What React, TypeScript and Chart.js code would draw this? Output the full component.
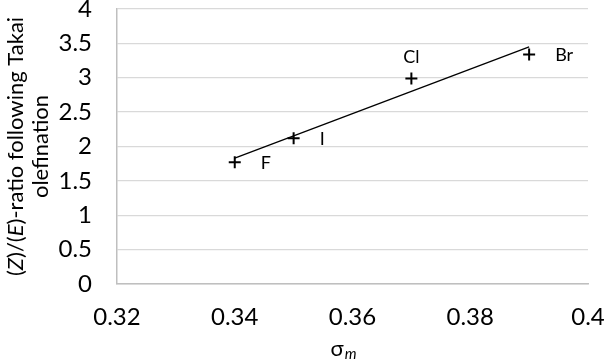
import React, { useEffect, useRef } from "react";
import { Chart, registerables } from "chart.js";

Chart.register(...registerables);

const pointLabels = ["F", "I", "Cl", "Br"];
const sigmaM = [0.34, 0.35, 0.37, 0.39];
const zeRatio = [1.77, 2.12, 2.99, 3.34];
const trendX = [0.34, 0.39];
const trendY = [1.83, 3.45];
const xTickLabels = ["0.32", "0.34", "0.36", "0.38", "0.4"];
const yTickLabels = ["0", "0.5", "1", "1.5", "2", "2.5", "3", "3.5", "4"];
const yTitleLine1 = [
  { t: "(", i: false },
  { t: "Z", i: true },
  { t: ")/(", i: false },
  { t: "E", i: true },
  { t: ")-ratio following Takai", i: false },
];
const yTitleLine2 = "olefination";
const xTitleMain = "σ";
const xTitleSub = "m";

const FONT = "Lato, 'Open Sans', sans-serif";

const labelPlugin = {
  id: "customText",
  afterDraw(chart: any) {
    const ctx = chart.ctx as CanvasRenderingContext2D;
    const xs = chart.scales.x;
    const ys = chart.scales.y;
    const area = chart.chartArea;
    ctx.save();
    ctx.fillStyle = "#000";
    ctx.font = `18px ${FONT}`;
    ctx.textBaseline = "middle";
    pointLabels.forEach((lab, k) => {
      const px = xs.getPixelForValue(sigmaM[k]);
      const py = ys.getPixelForValue(zeRatio[k]);
      if (lab === "Cl") {
        ctx.textAlign = "center";
        ctx.fillText(lab, px, py - 21);
      } else {
        ctx.textAlign = "left";
        ctx.fillText(lab, px + 26, py + 1);
      }
    });
    const cy = (area.top + area.bottom) / 2;
    const drawRot = (parts: { t: string; i: boolean }[], cx: number) => {
      ctx.save();
      ctx.translate(cx, cy);
      ctx.rotate(-Math.PI / 2);
      ctx.textAlign = "left";
      ctx.textBaseline = "middle";
      let total = 0;
      const widths = parts.map((p) => {
        ctx.font = `${p.i ? "italic " : ""}22px ${FONT}`;
        const w = ctx.measureText(p.t).width;
        total += w;
        return w;
      });
      let x = -total / 2;
      parts.forEach((p, k) => {
        ctx.font = `${p.i ? "italic " : ""}22px ${FONT}`;
        ctx.fillText(p.t, x, 0);
        x += widths[k];
      });
      ctx.restore();
    };
    drawRot(yTitleLine1, 16);
    drawRot([{ t: yTitleLine2, i: false }], 41);
    ctx.font = `22px ${FONT}`;
    const w1 = ctx.measureText(xTitleMain).width;
    ctx.font = `italic 15px ${FONT}`;
    const w2 = ctx.measureText(xTitleSub).width;
    const start = 343 - (w1 + w2) / 2;
    ctx.textAlign = "left";
    ctx.textBaseline = "alphabetic";
    ctx.font = `22px ${FONT}`;
    ctx.fillText(xTitleMain, start, 356);
    ctx.font = `italic 15px ${FONT}`;
    ctx.fillText(xTitleSub, start + w1 + 1, 359);
    ctx.restore();
  },
};

export default function App() {
  const ref = useRef<HTMLCanvasElement>(null);
  useEffect(() => {
    document.body.style.margin = "0";
    const chart = new Chart(ref.current!, {
      type: "scatter",
      data: {
        datasets: [
          {
            label: "trend",
            data: trendX.map((x, i) => ({ x, y: trendY[i] })),
            showLine: true,
            borderColor: "#000",
            borderWidth: 1.3,
            pointRadius: 0,
            fill: false,
          },
          {
            label: "points",
            data: sigmaM.map((x, i) => ({ x, y: zeRatio[i] })),
            pointStyle: "cross",
            pointRadius: 6,
            borderColor: "#000",
            backgroundColor: "#000",
            borderWidth: 2,
            showLine: false,
          },
        ],
      },
      options: {
        animation: false,
        responsive: false,
        devicePixelRatio: 1,
        layout: { padding: { left: 0, top: 9, right: 18, bottom: 0 } },
        plugins: { legend: { display: false }, tooltip: { enabled: false } },
        scales: {
          x: {
            type: "linear",
            min: 0.32,
            max: 0.4,
            ticks: {
              stepSize: 0.02,
              padding: 19,
              color: "#000",
              font: { family: FONT, size: 24 },
              callback: (_v: any, i: number) => xTickLabels[i],
            },
            grid: { display: false, drawTicks: false },
            border: { display: true, color: "#bfbfbf", width: 1.5 },
            afterFit: (s: any) => {
              s.height = 77;
              s.paddingLeft = 0;
              s.paddingRight = 0;
            },
          },
          y: {
            type: "linear",
            min: 0,
            max: 4,
            ticks: {
              stepSize: 0.5,
              padding: 25,
              color: "#000",
              font: { family: FONT, size: 24 },
              callback: (_v: any, i: number) => yTickLabels[i],
            },
            grid: { color: "#d9d9d9", lineWidth: 1.3, drawTicks: false },
            border: { display: true, color: "#bfbfbf", width: 1.5 },
            afterFit: (s: any) => {
              s.width = 117;
              s.paddingTop = 0;
              s.paddingBottom = 0;
            },
          },
        },
      },
      plugins: [labelPlugin],
    } as any);
    return () => chart.destroy();
  }, []);
  return (
    <div style={{ position: "absolute", left: 0, top: 0, width: 606, height: 361 }}>
      <canvas ref={ref} width={606} height={361} />
    </div>
  );
}
